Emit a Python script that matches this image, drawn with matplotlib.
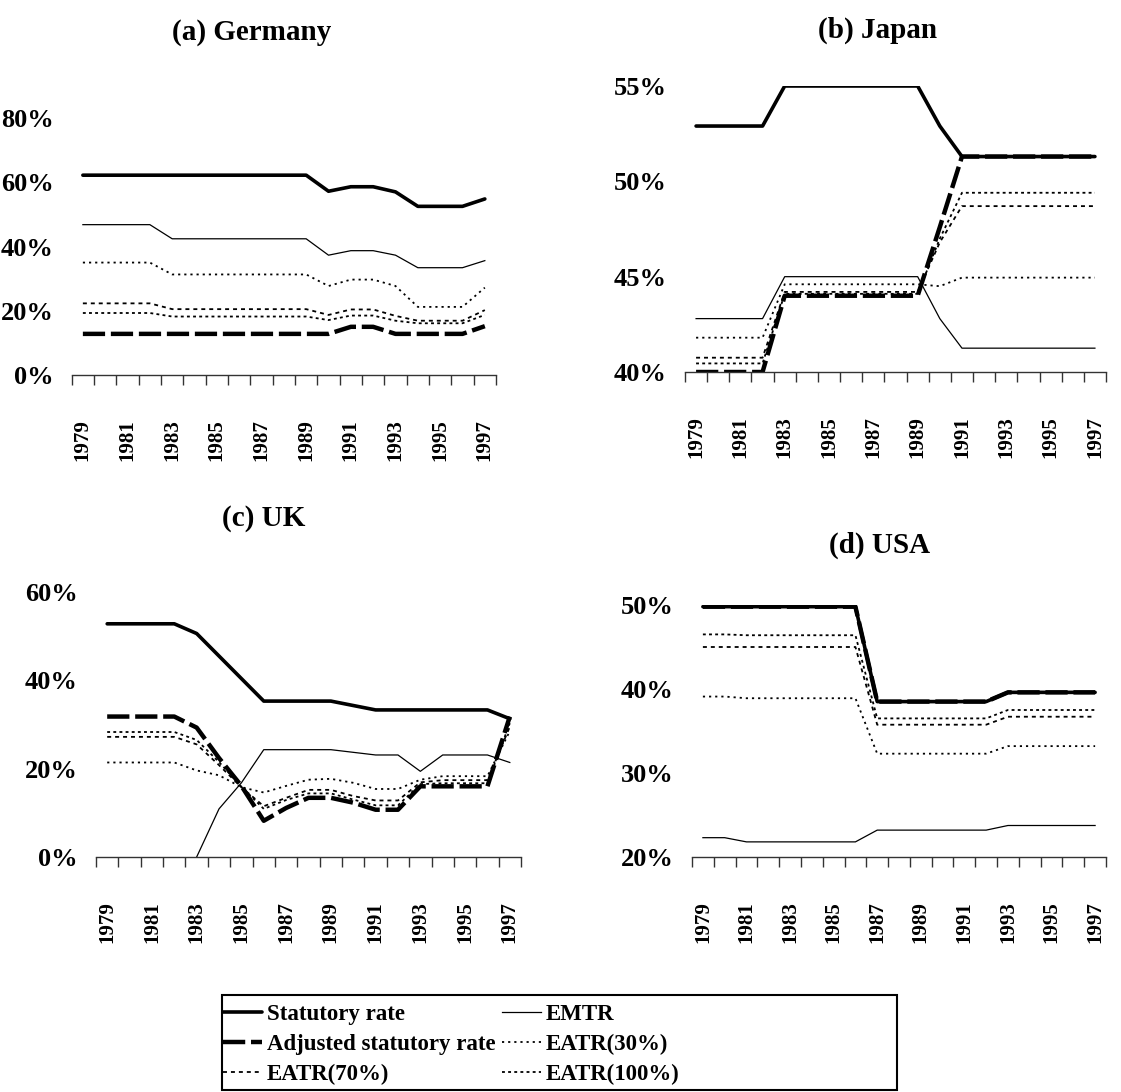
#!/usr/bin/env python3

import numpy as np
import matplotlib
import matplotlib.pyplot as plt
from matplotlib.patches import Rectangle
matplotlib.use('Agg')

plt.rcParams['font.family'] = ['Liberation Serif', 'DejaVu Serif']
plt.rcParams['font.weight'] = 'bold'

years = list(range(1979, 1998))
year_labels = [str(y) for y in years[::2]]
names = ['Statutory rate', 'EMTR', 'Adjusted statutory rate',
         'EATR(30%)', 'EATR(70%)', 'EATR(100%)']

# (a) Germany
stat_de = [62.2] * 11 + [57.2, 58.6, 58.6, 57.0, 52.5, 52.5, 52.5, 54.8]
emtr_de = [46.8] * 4 + [42.4] * 7 + [37.3, 38.7, 38.7, 37.3, 33.4, 33.4, 33.4, 35.6]
adj_de = [12.8] * 12 + [15.0, 15.0, 12.8, 12.8, 12.8, 12.8, 15.2]
eatr30_de = [35.0] * 4 + [31.3] * 7 + [27.7, 29.7, 29.7, 27.7, 21.2, 21.2, 21.2, 27.2]
eatr70_de = [22.3] * 4 + [20.5] * 7 + [18.7, 20.4, 20.4, 18.4, 16.9, 16.9, 16.9, 20.2]
eatr100_de = [19.3] * 4 + [18.2] * 7 + [17.1, 18.5, 18.5, 16.9, 16.1, 16.1, 16.1, 18.7]

# (b) Japan
stat_jp = [52.9] * 4 + [55.0] * 7 + [52.9] + [51.3] * 7
emtr_jp = [42.8] * 4 + [45.0] * 7 + [42.8] + [41.25] * 7
adj_jp = [40.0] * 4 + [44.0] * 7 + [47.6] + [51.3] * 7
eatr30_jp = [41.8] * 4 + [44.6] * 7 + [44.5] + [44.95] * 7
eatr70_jp = [40.75] * 4 + [44.2] * 7 + [46.8] + [48.7] * 7
eatr100_jp = [40.45] * 4 + [44.1] * 7 + [47.0] + [49.4] * 7

# (c) UK
stat_uk = [52.8] * 4 + [50.6, 45.5, 40.4] + [35.3] * 4 + [34.3] + [33.3] * 6 + [31.3]
emtr_uk = [np.nan] * 4 + [0.0, 10.9, 16.8] + [24.3] * 4 + [23.7, 23.1, 23.1, 19.4, 23.1, 23.1, 23.1, 21.4]
adj_uk = [31.8] * 4 + [29.3, 22.4, 16.1, 8.2, 11.1, 13.4, 13.4, 12.3, 10.7, 10.7,
                       16.0, 16.0, 16.0, 16.0, 31.8]
eatr30_uk = [21.4] * 4 + [19.6, 18.5, 15.8, 14.6, 16.1, 17.5, 17.7, 16.8, 15.4, 15.4,
                          17.5, 18.3, 18.3, 18.3, 28.5]
eatr70_uk = [27.2] * 4 + [25.5, 20.8, 15.8, 11.5, 13.4, 15.2, 15.2, 13.8, 12.8, 12.8,
                          16.9, 17.4, 17.4, 17.4, 29.5]
eatr100_uk = [28.3] * 4 + [26.5, 21.5, 15.9, 10.9, 12.9, 14.4, 14.4, 13.0, 11.7, 11.7,
                           16.5, 16.7, 16.7, 16.7, 30.3]

# (d) USA
stat_us = [49.8] * 8 + [38.5] * 6 + [39.6] * 5
emtr_us = [22.3] * 2 + [21.8] * 6 + [23.2] * 6 + [23.75] * 5
adj_us = [49.8] * 8 + [38.5] * 6 + [39.6] * 5
eatr30_us = [39.1] * 2 + [38.9] * 6 + [32.3] * 6 + [33.2] * 5
eatr70_us = [45.0] * 8 + [35.75] * 6 + [36.7] * 5
eatr100_us = [46.5] * 2 + [46.4] * 6 + [36.5] * 6 + [37.5] * 5

styles = {
    'Statutory rate': dict(lw=2.6, ls='-', solid_capstyle='round'),
    'EMTR': dict(lw=0.9, ls='-'),
    'Adjusted statutory rate': dict(lw=3.2, ls=(0, (5, 1.3))),
    'EATR(30%)': dict(lw=1.3, ls=(0, (1.2, 2.2))),
    'EATR(70%)': dict(lw=1.3, ls=(0, (2.2, 2.2))),
    'EATR(100%)': dict(lw=1.3, ls=(0, (1.6, 1.8))),
}

W, H = 1121, 1092


def px_axes(fig, x0, x1, ytop, ybot):
    return fig.add_axes([x0 / W, 1 - ybot / H, (x1 - x0) / W, (ybot - ytop) / H])


def draw_panel(ax, series, ylim, yticks, title, tx, ty):
    x = np.arange(len(years))
    lines = []
    for name, vals in zip(names, series):
        ln, = ax.plot(x, vals, color='black', label=name, **styles[name])
        lines.append(ln)
    ax.set_xlim(-0.5, len(years) - 0.5)
    ax.set_ylim(*ylim)
    ax.set_yticks(yticks)
    ax.set_yticklabels(['%d%%' % v for v in yticks], fontsize=19, fontweight='bold')
    ax.tick_params(axis='y', length=0, pad=13)
    ax.set_xticks(np.arange(-0.5, len(years), 1))
    ax.set_xticklabels([])
    ax.tick_params(axis='x', which='major', length=7, width=1, color='#333', direction='out')
    ax.set_xticks(x[::2], minor=True)
    ax.set_xticklabels(year_labels, minor=True, rotation=90, fontsize=15,
                       fontweight='bold', va='top')
    ax.tick_params(axis='x', which='minor', length=0, pad=32)
    for s in ['left', 'right', 'top']:
        ax.spines[s].set_visible(False)
    ax.spines['bottom'].set_color('#333')
    ax.spines['bottom'].set_linewidth(1)
    fig.text(tx / W, 1 - ty / H, title, fontsize=21, fontweight='bold',
             ha='center', va='center')
    return lines


fig = plt.figure(figsize=(W / 100, H / 100), dpi=100)

ax_a = px_axes(fig, 71.7, 496, 118, 375)
lines = draw_panel(ax_a, [stat_de, emtr_de, adj_de, eatr30_de, eatr70_de, eatr100_de],
                   (0, 80), [0, 20, 40, 60, 80], '(a) Germany', 252, 32)

ax_b = px_axes(fig, 685, 1106, 86, 372)
draw_panel(ax_b, [stat_jp, emtr_jp, adj_jp, eatr30_jp, eatr70_jp, eatr100_jp],
           (40, 55), [40, 45, 50, 55], '(b) Japan', 878, 30)

ax_c = px_axes(fig, 96, 521, 592, 857)
draw_panel(ax_c, [stat_uk, emtr_uk, adj_uk, eatr30_uk, eatr70_uk, eatr100_uk],
           (0, 60), [0, 20, 40, 60], '(c) UK', 264, 519)

ax_d = px_axes(fig, 692, 1106, 605, 857)
draw_panel(ax_d, [stat_us, emtr_us, adj_us, eatr30_us, eatr70_us, eatr100_us],
           (20, 50), [20, 30, 40, 50], '(d) USA', 880, 545)

# legend: column 1 statutory / adjusted / 70%, column 2 EMTR / 30% / 100%
order = [0, 2, 4, 1, 3, 5]
fig.legend([lines[i] for i in order], [names[i] for i in order],
           loc='upper left', bbox_to_anchor=(223 / W, 1 - 1004 / H), ncol=2,
           frameon=False, handlelength=1.7, handletextpad=0.2,
           columnspacing=0.3, labelspacing=0.38, borderpad=0, borderaxespad=0,
           prop={'family': 'Liberation Serif', 'weight': 'bold', 'size': 16.5})
fig.patches.append(Rectangle((222 / W, 1 - 1090 / H), 675 / W, 95 / H,
                             transform=fig.transFigure, fill=False,
                             edgecolor='black', linewidth=1.5))

fig.savefig('out.png', dpi=100)
plt.close()
